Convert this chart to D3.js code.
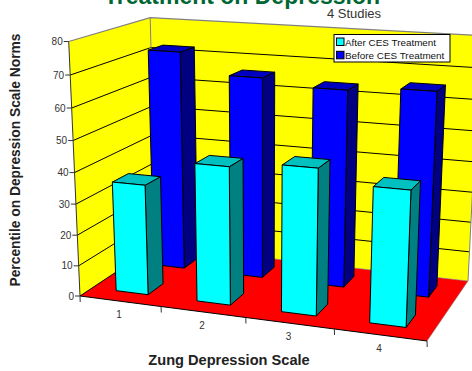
<!DOCTYPE html>
<html>
<head>
<meta charset="utf-8">
<script src="https://cdn.jsdelivr.net/npm/d3@7"></script>
<style>
html,body{margin:0;padding:0;background:#fff}
svg{display:block}
text{font-family:"Liberation Sans",Arial,sans-serif}
</style>
</head>
<body>
<svg id="chart" width="472" height="371"></svg>
<script>
const categories = ["1", "2", "3", "4"];
const seriesNames = ["After CES Treatment", "Before CES Treatment"];
const afterValues = [35.7, 44, 46, 42];
const beforeValues = [72.5, 66, 64, 65.5];
const valueTicks = [0, 10, 20, 30, 40, 50, 60, 70, 80];

const width = 472, height = 371;
const svg = d3.select("#chart");

// Solve the floor homography from its four screen corners (unit square -> screen).
function floorHomography(p00, p10, p11, p01) {
  const dx1 = p10[0] - p11[0], dx2 = p01[0] - p11[0], sx = p00[0] - p10[0] + p11[0] - p01[0];
  const dy1 = p10[1] - p11[1], dy2 = p01[1] - p11[1], sy = p00[1] - p10[1] + p11[1] - p01[1];
  const det = dx1 * dy2 - dx2 * dy1;
  const g = (sx * dy2 - dx2 * sy) / det, h = (dx1 * sy - sx * dy1) / det;
  return [
    [p10[0] - p00[0] + g * p10[0], p01[0] - p00[0] + h * p01[0], p00[0]],
    [p10[1] - p00[1] + g * p10[1], p01[1] - p00[1] + h * p01[1], p00[1]],
    [g, h, 1]
  ];
}

const H = floorHomography([80, 296], [427, 341], [468, 281], [156, 245.5]);
const vanish = [262, 4400];
const axisTop = [70, 41.5];

// Scale of the vertical column so that the axis maximum lands on the axis top.
const w = (axisTop[1] - 296) / (vanish[1] - axisTop[1]);

function project(u, v, z) {
  const X = H[0][0] * u + H[0][1] * v + H[0][2] + w * z * vanish[0];
  const Y = H[1][0] * u + H[1][1] * v + H[1][2] + w * z * vanish[1];
  const W = H[2][0] * u + H[2][1] * v + H[2][2] + w * z;
  return [X / W, Y / W];
}

// Data scales live in model space: u along categories, v in depth, z in height.
const uScale = d3.scaleBand().domain(categories).range([0, 1]).paddingInner(0.6).paddingOuter(0.3);
const uStep = d3.scaleBand().domain(categories).range([0, 1]);
const vScale = d3.scaleBand().domain(seriesNames).range([0, 1]).paddingInner(0.6).paddingOuter(0.3);
const zScale = d3.scaleLinear().domain([0, 80]).range([0, 1]);

const poly = d3.line().curve(d3.curveLinearClosed);
const seg = d3.line();
const P = (u, v, z) => project(u, v, z);

function face(pts, fill, stroke, sw) {
  svg.append("path").attr("d", poly(pts)).attr("fill", fill)
    .attr("stroke", stroke).attr("stroke-width", sw).attr("stroke-linejoin", "round");
}

// Walls and floor
face([P(0,0,0), P(0,1,0), P(0,1,1), P(0,0,1)], "#ffff00", "none", 0);
face([P(0,1,0), P(1,1,0), P(1,1,1), P(0,1,1)], "#ffff00", "none", 0);

// Gridlines on both walls
valueTicks.filter(d => d > 0 && d < 80).forEach(d => {
  const z = zScale(d);
  svg.append("path").attr("d", seg([P(0,0,z), P(0,1,z), P(1,1,z)]))
    .attr("fill", "none").attr("stroke", "#000").attr("stroke-width", 1);
});

// Wall outlines
svg.append("path").attr("d", seg([P(0,0,0), P(0,0,1)])).attr("stroke", "#333").attr("stroke-width", 1).attr("fill", "none");
svg.append("path").attr("d", seg([P(0,0,1), P(0,1,1), P(1,1,1)])).attr("stroke", "#808080").attr("stroke-width", 1.2).attr("fill", "none");
svg.append("path").attr("d", seg([P(0,1,0), P(0,1,1)])).attr("stroke", "#808080").attr("stroke-width", 1).attr("fill", "none");
svg.append("path").attr("d", seg([P(1,1,0), P(1,1,1)])).attr("stroke", "#808080").attr("stroke-width", 1).attr("fill", "none");

face([P(0,0,0), P(1,0,0), P(1,1,0), P(0,1,0)], "#ff0000", "none", 0);
svg.append("path").attr("d", seg([P(0,1,0), P(0,0,0), P(1,0,0)])).attr("stroke", "#000").attr("stroke-width", 1).attr("fill", "none");
svg.append("path").attr("d", seg([P(1,0,0), P(1,1,0), P(0,1,0)])).attr("stroke", "#808080").attr("stroke-width", 0.6).attr("fill", "none");

// Bars, back row first so the nearer row covers it
function drawBars(name, values, front, top, side) {
  categories.forEach((c, i) => {
    const u0 = uScale(c), u1 = u0 + uScale.bandwidth();
    const v0 = vScale(name), v1 = v0 + vScale.bandwidth();
    const z = zScale(values[i]);
    face([P(u1,v0,0), P(u1,v1,0), P(u1,v1,z), P(u1,v0,z)], side, "#000", 1);
    face([P(u0,v0,z), P(u1,v0,z), P(u1,v1,z), P(u0,v1,z)], top, "#000", 1);
    face([P(u0,v0,0), P(u1,v0,0), P(u1,v0,z), P(u0,v0,z)], front, "#000", 1);
  });
}
drawBars(seriesNames[1], beforeValues, "#0000ff", "#0000c0", "#000080");
drawBars(seriesNames[0], afterValues, "#00ffff", "#00c0c0", "#008080");

// Value axis
valueTicks.forEach(d => {
  const p = P(0, 0, zScale(d));
  svg.append("line").attr("x1", p[0] - 5).attr("x2", p[0]).attr("y1", p[1]).attr("y2", p[1])
    .attr("stroke", "#333").attr("stroke-width", 1);
  svg.append("text").attr("x", p[0] - 6).attr("y", p[1] + 3.5).attr("text-anchor", "end")
    .attr("font-size", 10).attr("fill", "#333").text(d);
});

// Category axis
d3.range(categories.length + 1).forEach(i => {
  const p = P(i / categories.length, 0, 0);
  svg.append("line").attr("x1", p[0]).attr("x2", p[0] + 0.2).attr("y1", p[1]).attr("y2", p[1] + 6)
    .attr("stroke", "#333").attr("stroke-width", 1);
});
categories.forEach(c => {
  const p = P(uStep(c) + uStep.bandwidth() / 2, 0, 0);
  svg.append("text").attr("x", p[0] - 1).attr("y", p[1] + 17).attr("text-anchor", "middle")
    .attr("font-size", 10).attr("fill", "#333").text(c);
});

// Titles
svg.append("text").attr("x", 242).attr("y", 4).attr("text-anchor", "middle")
  .attr("font-size", 23).attr("font-weight", "bold").attr("fill", "#006633").text("Treatment on Depression");
svg.append("text").attr("x", 354).attr("y", 18).attr("text-anchor", "middle")
  .attr("font-size", 13).attr("fill", "#333").text("4 Studies");
svg.append("text").attr("transform", "translate(20,160) rotate(-90)").attr("text-anchor", "middle")
  .attr("font-size", 13.8).attr("font-weight", "bold").attr("fill", "#222").text("Percentile on Depression Scale Norms");
svg.append("text").attr("x", 229).attr("y", 364.5).attr("text-anchor", "middle")
  .attr("font-size", 14.6).attr("font-weight", "bold").attr("fill", "#222").text("Zung Depression Scale");

// Legend
const legend = svg.append("g").attr("transform", "translate(334,34.5)");
legend.append("rect").attr("width", 116).attr("height", 27.5).attr("fill", "#fff").attr("stroke", "#000");
seriesNames.forEach((name, i) => {
  const y = 7.5 + i * 13.3;
  legend.append("rect").attr("x", 2.5).attr("y", y - 4).attr("width", 7.5).attr("height", 7.5)
    .attr("fill", i ? "#0000ff" : "#00ffff").attr("stroke", "#000");
  legend.append("text").attr("x", 11).attr("y", y + 3.5).attr("font-size", 9.9).attr("fill", "#111").text(name);
});
</script>
</body>
</html>
